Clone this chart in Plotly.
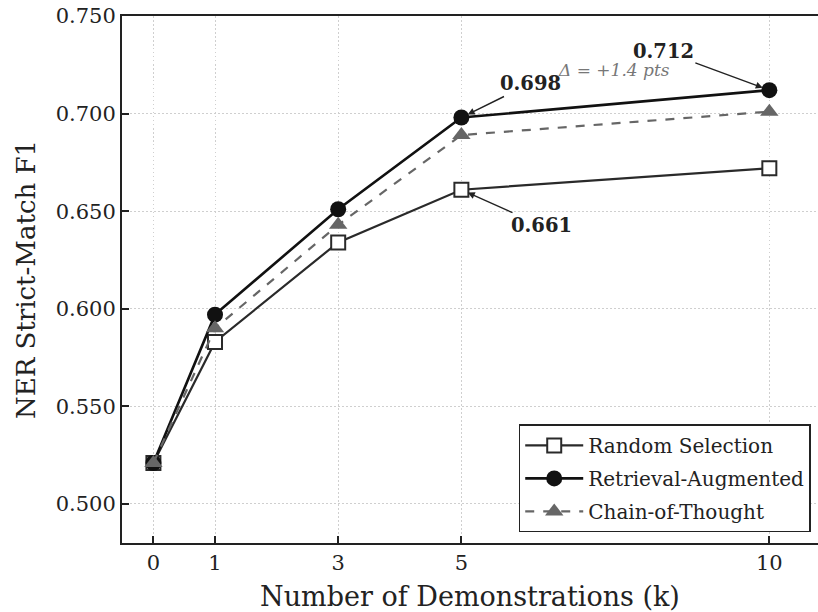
import plotly.graph_objects as go

k_values = [0, 1, 3, 5, 10]
random_sel = [0.521, 0.583, 0.634, 0.661, 0.672]
retrieval_aug = [0.521, 0.597, 0.651, 0.698, 0.712]
chain_of_thought = [0.521, 0.590, 0.643, 0.689, 0.701]
y_ticks = [0.500, 0.550, 0.600, 0.650, 0.700, 0.750]

FONT = "DejaVu Serif"

fig = go.Figure()
fig.add_trace(go.Scatter(
    x=k_values, y=random_sel, mode="lines+markers", name="Random Selection",
    legendgroup="a",
    line=dict(color="#2a2a2a", width=2.2),
    marker=dict(symbol="square", size=14, color="white", line=dict(color="#2a2a2a", width=2)),
))
fig.add_trace(go.Scatter(
    x=k_values, y=retrieval_aug, mode="lines+markers", name="Retrieval-Augmented",
    legendgroup="b",
    line=dict(color="#111111", width=2.6),
    marker=dict(symbol="circle", size=16, color="#111111"),
))
fig.add_trace(go.Scatter(
    x=k_values, y=chain_of_thought, mode="lines+markers", name="Chain-of-Thought",
    legendgroup="c",
    line=dict(color="#666666", width=2.2, dash="dash"),
    marker=dict(symbol="triangle-up", size=16, color="#666666"),
))

ann_font = dict(family=FONT, size=19.5, color="#222222")
fig.add_annotation(x=10, y=retrieval_aug[4], text="<b>0.712</b>", ax=-106, ay=-39,
                   showarrow=True, arrowhead=2, arrowsize=1, arrowwidth=1.4,
                   arrowcolor="#222222", standoff=7, font=ann_font)
fig.add_annotation(x=5, y=retrieval_aug[3], text="<b>0.698</b>", ax=69, ay=-34,
                   showarrow=True, arrowhead=2, arrowsize=1, arrowwidth=1.4,
                   arrowcolor="#222222", standoff=7, font=ann_font)
fig.add_annotation(x=5, y=random_sel[3], text="<b>0.661</b>", ax=80, ay=36,
                   showarrow=True, arrowhead=2, arrowsize=1, arrowwidth=1.4,
                   arrowcolor="#222222", standoff=7, font=ann_font)
fig.add_annotation(x=7.47, y=0.7223, text="<i>Δ = +1.4 pts</i>", showarrow=False,
                   font=dict(family=FONT, size=17, color="#777777"))

axis_common = dict(
    showline=True, linecolor="#222222", linewidth=2,
    ticks="inside", ticklen=7, tickwidth=1.5, tickcolor="#222222",
    showgrid=True, gridcolor="#cfcfcf", griddash="1.5px,2.5px", gridwidth=1,
    zeroline=False,
    tickfont=dict(family=FONT, size=21, color="#222222"),
)

fig.update_xaxes(
    range=[-0.51, 10.79], tickvals=k_values, mirror=True,
    title=dict(text="Number of Demonstrations (k)", font=dict(family=FONT, size=27, color="#222222"), standoff=13),
    **axis_common,
)
fig.update_yaxes(
    range=[0.48, 0.75], tickvals=y_ticks, tickformat=".3f",
    title=dict(text="NER Strict-Match F1", font=dict(family=FONT, size=26, color="#222222"), standoff=13),
    **axis_common,
)

fig.update_layout(
    width=818, height=612,
    margin=dict(l=122, r=0, t=16, b=69),
    plot_bgcolor="white", paper_bgcolor="white",
    font=dict(family=FONT, color="#222222"),
    legend=dict(
        x=0.570, y=0.225, xanchor="left", yanchor="top",
        bgcolor="white", bordercolor="#222222", borderwidth=1.5,
        font=dict(family=FONT, size=20, color="#222222"),
        tracegroupgap=4, itemwidth=58,
    ),
)

fig.write_html("out.html", config={"displayModeBar": False},
               post_script="document.body.style.margin='0';document.body.style.padding='0';")
